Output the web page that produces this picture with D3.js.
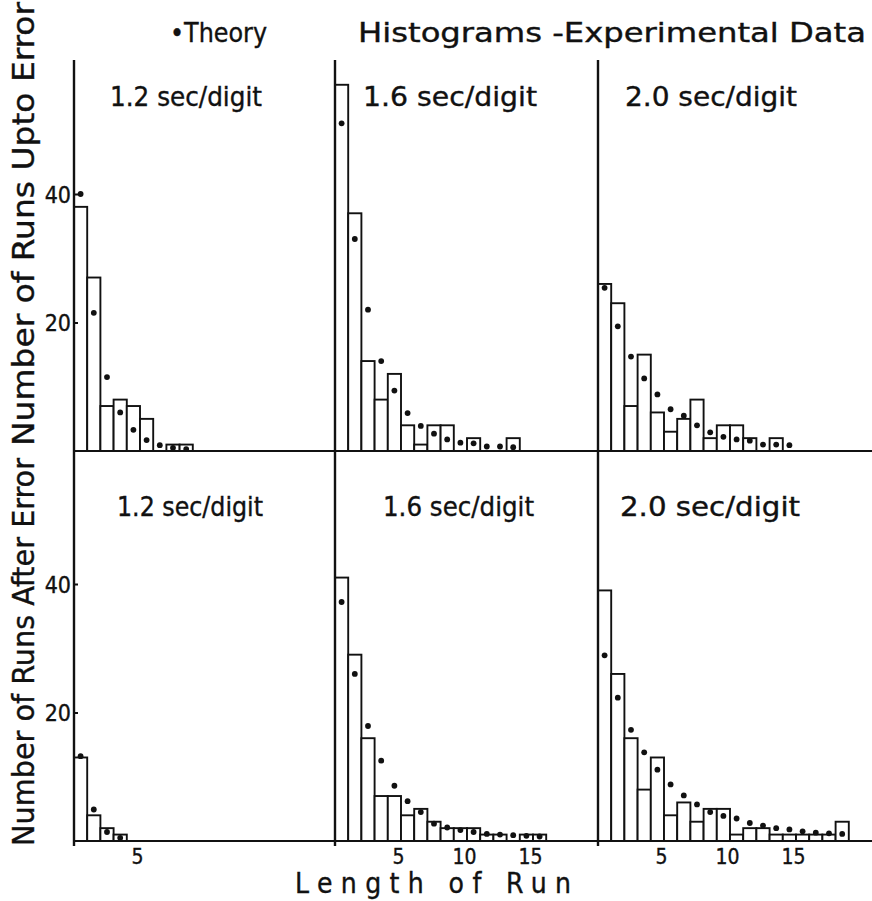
<!DOCTYPE html>
<html><head><meta charset="utf-8">
<script src="https://cdn.jsdelivr.net/npm/d3@7"></script>
<style>body{margin:0;background:#fff}svg{display:block}</style>
</head><body><svg id="c" width="872" height="901"></svg>
<script>
// ---- data ----
const panelTitles = ["1.2 sec/digit", "1.6 sec/digit", "2.0 sec/digit"];
const rowTitles = ["Number of Runs Upto Error", "Number of Runs After Error"];
const yTickValues = [20, 40];
const xTickValues = [[5], [5, 10, 15], [5, 10, 15]];

// Upto error (top row) – histogram counts and theory points, per run length 1..n
const uptoBars12 = [38, 27, 7, 8, 7, 5, 0, 1, 1];
const uptoTheory12 = [40, 21.5, 11.5, 6, 3.3, 1.7, 0.9, 0.5, 0.3];
const uptoBars16 = [57, 37, 14, 8, 12, 4, 1, 4, 4, 0, 2, 0, 0, 2];
const uptoTheory16 = [51, 33, 22, 14, 9.4, 5.9, 3.9, 2.7, 1.8, 1.3, 1.2, 0.7, 0.7, 0.6];
const uptoBars20 = [26, 23, 7, 15, 6, 3, 5, 8, 2, 4, 4, 2, 0, 2, 0];
const uptoTheory20 = [25.4, 19.4, 14.7, 11.3, 8.8, 6.5, 5.5, 4.0, 2.9, 2.2, 1.8, 1.6, 1.0, 1.0, 0.9];

// After error (bottom row)
const afterBars12 = [13, 4, 2, 1];
const afterTheory12 = [13.2, 4.9, 1.4, 0.5];
const afterBars16 = [41, 29, 16, 7, 7, 4, 5, 3, 2, 2, 2, 1, 1, 0, 1, 1];
const afterTheory16 = [37.2, 26, 17.9, 12.5, 8.6, 6.2, 4.5, 2.7, 2.1, 1.7, 1.4, 1.1, 1.0, 0.9, 0.8, 0.7];
const afterBars20 = [39, 26, 16, 8, 13, 4, 6, 3, 5, 5, 1, 2, 2, 1, 1, 1, 1, 1, 3];
const afterTheory20 = [28.9, 22.3, 17.3, 13.8, 11.1, 8.8, 7.1, 5.7, 4.5, 3.9, 3.5, 2.8, 2.4, 2.0, 1.8, 1.5, 1.3, 1.2, 1.1];

const rows = [
  {bars: [uptoBars12, uptoBars16, uptoBars20], theory: [uptoTheory12, uptoTheory16, uptoTheory20]},
  {bars: [afterBars12, afterBars16, afterBars20], theory: [afterTheory12, afterTheory16, afterTheory20]}
];

// ---- layout ----
const svg = d3.select("#c");
const FONT = "'DejaVu Sans Condensed','DejaVu Sans',sans-serif";
const colX = [74, 335, 598];
const rowBase = [451, 841];
const unitsPerPanel = 20, panelPx = 264;

const xs = colX.map(x0 => d3.scaleLinear().domain([0, unitsPerPanel]).range([x0, x0 + panelPx]));
const ys = rowBase.map(b => d3.scaleLinear().domain([0, 40]).range([b, b - 257]));

const ink = "#111";
function txt(sel) {
  return sel.attr("font-family", FONT).attr("fill", ink).attr("stroke", ink).attr("stroke-width", 0.35);
}

// panel title geometry [row][col]: left x, width, baseline
const titleX = [[110, 363, 625], [117, 383, 620]];
const titleW = [[152, 174, 172], [146, 151, 180]];
const titleY = [106, 516];
const rowTitleSpan = [[2, 446], [458, 846]];

rows.forEach((row, r) => {
  const y = ys[r];
  row.bars.forEach((bars, c) => {
    const x = xs[c];
    const g = svg.append("g");
    g.selectAll("rect").data(bars.map((v, i) => ({v, i})).filter(d => d.v > 0))
      .join("rect")
      .attr("x", d => x(d.i)).attr("width", d => x(d.i + 1) - x(d.i))
      .attr("y", d => y(d.v)).attr("height", d => y(0) - y(d.v))
      .attr("fill", "#fff").attr("stroke", ink).attr("stroke-width", 1.9);
    g.selectAll("circle").data(row.theory[c].map((v, i) => ({v, i})))
      .join("circle")
      .attr("cx", d => x(d.i + 0.5)).attr("cy", d => y(d.v)).attr("r", 2.9)
      .attr("fill", ink);
  });
  // baseline across all panels
  svg.append("line").attr("x1", xs[0](0)).attr("x2", 872).attr("y1", y(0)).attr("y2", y(0))
    .attr("stroke", ink).attr("stroke-width", 2.2);
  // y ticks on the left axis
  const yAxis = d3.axisRight(y).tickValues(yTickValues).tickSize(4).tickFormat(d3.format("d"));
  const ag = svg.append("g").attr("transform", `translate(${xs[0](0)},0)`).call(yAxis);
  ag.select(".domain").remove();
  ag.selectAll("line").attr("stroke", ink).attr("stroke-width", 2);
  txt(ag.selectAll("text").attr("x", -3).attr("text-anchor", "end").attr("dy", "0.36em")
    .attr("font-size", 23));
  // panel titles
  panelTitles.forEach((t, c) => {
    txt(svg.append("text").attr("x", titleX[r][c]).attr("y", titleY[r])
      .attr("font-size", 27).attr("textLength", titleW[r][c]).attr("lengthAdjust", "spacingAndGlyphs").text(t));
  });
  // row y-title
  const [s0, s1] = rowTitleSpan[r];
  txt(svg.append("text")
    .attr("transform", `translate(34,${(s0 + s1) / 2}) rotate(-90)`)
    .attr("text-anchor", "middle").attr("font-size", 30)
    .attr("textLength", s1 - s0).attr("lengthAdjust", "spacingAndGlyphs")
    .text(rowTitles[r]));
});

// vertical axes
colX.forEach(x0 => {
  svg.append("line").attr("x1", x0).attr("x2", x0).attr("y1", 60).attr("y2", 846)
    .attr("stroke", ink).attr("stroke-width", 2.4);
});

// bottom x tick labels
xTickValues.forEach((ticks, c) => {
  const xa = d3.axisBottom(xs[c]).tickValues(ticks).tickSize(0).tickFormat(d3.format("d"));
  const g = svg.append("g").attr("transform", `translate(0,${rowBase[1]})`).call(xa);
  g.select(".domain").remove();
  txt(g.selectAll("text").attr("dx", -3).attr("y", 8).attr("font-size", 21));
});

// x title
txt(svg.append("text").attr("x", 295).attr("y", 893)
  .attr("font-size", 28).attr("textLength", 276).attr("lengthAdjust", "spacing")
  .text("Length of Run"));

// header legend
txt(svg.append("text").attr("x", 170).attr("y", 42).attr("font-size", 27)
  .attr("textLength", 97).attr("lengthAdjust", "spacingAndGlyphs").text("•Theory"));
txt(svg.append("text").attr("x", 358).attr("y", 42).attr("font-size", 27)
  .attr("textLength", 508).attr("lengthAdjust", "spacingAndGlyphs").text("Histograms -Experimental Data"));
</script></body></html>
